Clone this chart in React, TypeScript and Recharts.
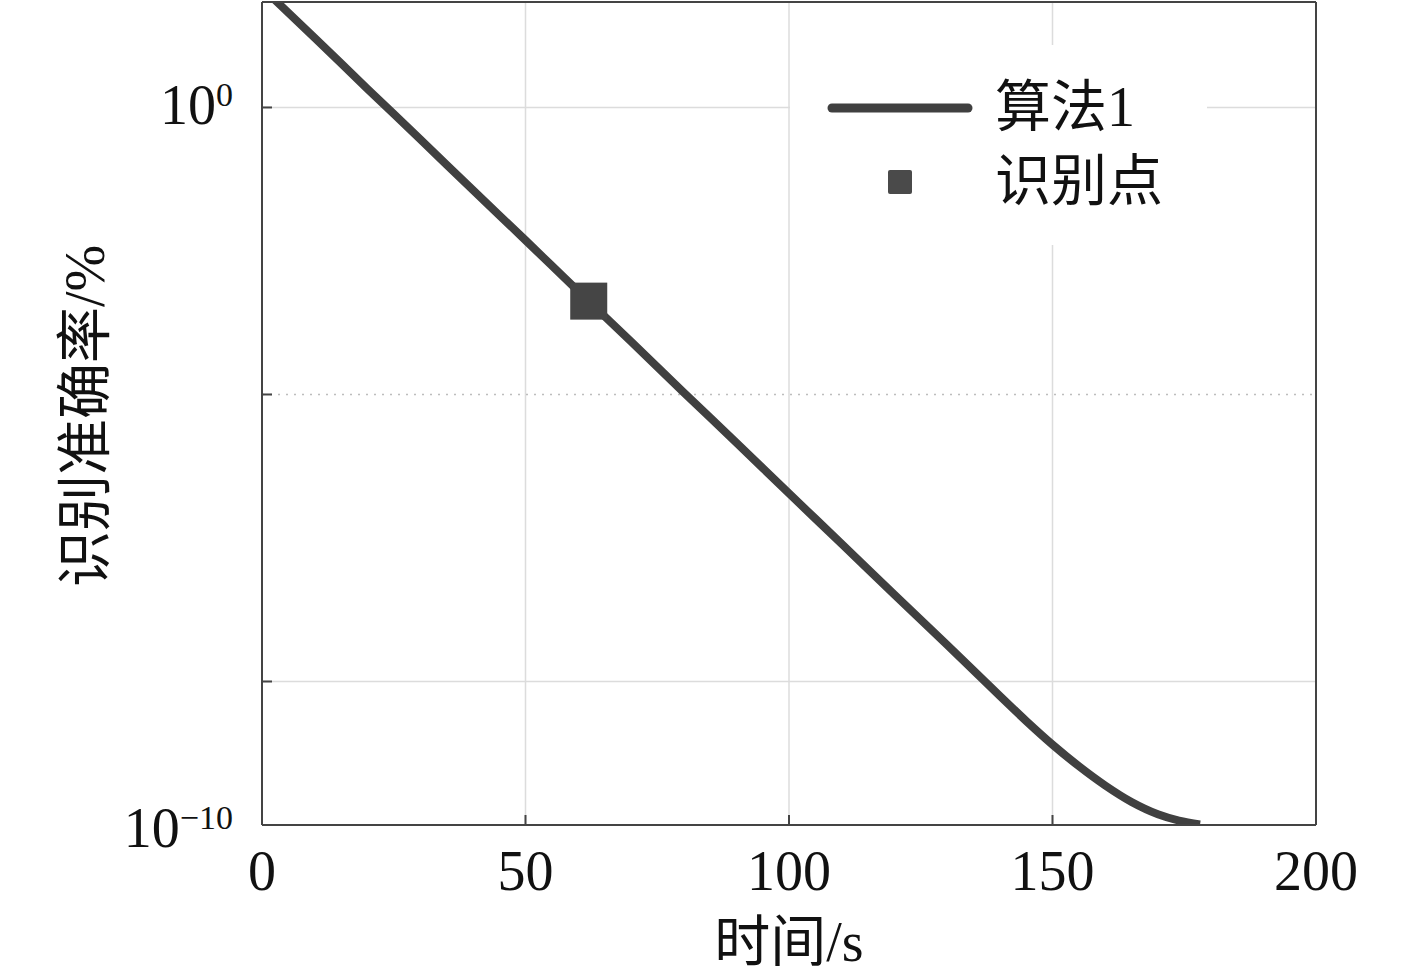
import React from 'react';
import {
  ComposedChart,
  Line,
  Scatter,
  XAxis,
  YAxis,
  CartesianGrid,
  ReferenceLine,
  Legend,
} from 'recharts';

// ---- data ----
const timeSeconds = [0, 10, 20, 30, 40, 50, 60, 70, 80, 90, 100, 110, 120, 130, 140, 145, 150, 155, 160, 165, 170, 174, 178];
const accuracyValues = [
  46.8, 9.33, 1.82, 0.363, 0.0708, 0.0141, 2.75e-3, 5.5e-4, 1.07e-4, 2.14e-5, 4.17e-6, 8.3e-7, 1.62e-7,
  3.24e-8, 6.3e-9, 2.82e-9, 1.32e-9, 6.6e-10, 3.55e-10, 2.09e-10, 1.41e-10, 1.15e-10, 1.02e-10,
];
const pointTime = [62];
const pointValue = [2.0e-3];

const xTicks = [0, 50, 100, 150, 200];
const yTicks = [1, 1e-4, 1e-8, 1e-10];
const yLabelled: Record<string, string> = { '1': '0', '1e-10': '\u221210' };

const seriesName = '算法1';
const pointName = '识别点';
const xTitle = '时间/s';
const yTitle = '识别准确率/%';

const lineData = timeSeconds.map((t, i) => ({ t, v: accuracyValues[i] }));
const pointData = pointTime.map((t, i) => ({ t, v: pointValue[i] }));

const FONT = "'Liberation Serif', 'Noto Sans CJK SC', serif";
const DARK = '#404040';
const AXIS = '#444444';
const GRID = '#dcdcdc';

const XTick = (props: any) => {
  const { x, y, payload } = props;
  return (
    <text x={x} y={y + 65} textAnchor="middle" fontFamily={FONT} fontSize={56} fill="#111">
      {payload.value}
    </text>
  );
};

const YTick = (props: any) => {
  const { x, y, payload } = props;
  const key = String(payload.value);
  const sup = yLabelled[key];
  if (sup === undefined) return <g />;
  const dy = payload.value === 1 ? 17 : 22;
  return (
    <text x={x - 29} y={y + dy} textAnchor="end" fontFamily={FONT} fontSize={56} fill="#111">
      10
      <tspan fontSize={34} dy={-18}>
        {sup}
      </tspan>
    </text>
  );
};

const LegendContent = () => (
  <svg width={417} height={200} style={{ display: 'block' }}>
    <line x1={42} y1={63} x2={178} y2={63} stroke={DARK} strokeWidth={9} strokeLinecap="round" />
    <text x={205} y={81} fontFamily={FONT} fontSize={56} fill="#111">
      {seriesName}
    </text>
    <rect x={98} y={125} width={24} height={24} rx={2} fill="#4a4a4a" />
    <text x={205} y={155} fontFamily={FONT} fontSize={56} fill="#111">
      {pointName}
    </text>
  </svg>
);

const SquareShape = (props: any) => {
  const { cx, cy } = props;
  const s = 37;
  return <rect x={cx - s / 2} y={cy - s / 2} width={s} height={s} fill="#454545" />;
};

export default function App() {
  return (
    <div style={{ position: 'absolute', left: 0, top: 0, width: 1417, height: 974, background: '#fff' }}>
      <ComposedChart width={1417} height={974} margin={{ top: 1, right: 100, bottom: 49, left: 0 }}>
        <CartesianGrid horizontal={false} vertical stroke={GRID} strokeWidth={1.5} />
        <ReferenceLine y={1} stroke={GRID} strokeWidth={1.5} />
        <ReferenceLine y={1e-8} stroke={GRID} strokeWidth={1.5} />
        <ReferenceLine y={1e-4} stroke="#bdbdbd" strokeWidth={1.5} strokeDasharray="2 6" />
        <Line
          data={lineData}
          dataKey="v"
          type="monotone"
          stroke={DARK}
          strokeWidth={8}
          dot={false}
          activeDot={false}
          isAnimationActive={false}
          name={seriesName}
        />
        <Scatter data={pointData} dataKey="v" shape={SquareShape} isAnimationActive={false} name={pointName} />
        <XAxis
          dataKey="t"
          type="number"
          domain={[0, 200]}
          ticks={xTicks}
          allowDataOverflow
          height={100}
          stroke={AXIS}
          strokeWidth={2}
          tickSize={-10}
          tickMargin={10}
          tick={XTick}
          tickLine={{ stroke: AXIS, strokeWidth: 2 }}
          axisLine={{ stroke: AXIS, strokeWidth: 2 }}
          label={(p: any) => {
            const vb = p.viewBox || { x: 262, width: 1054, y: 825 };
            return (
              <text x={vb.x + vb.width / 2} y={vb.y + 136} textAnchor="middle" fontFamily={FONT} fontSize={56} fill="#111">
                {xTitle}
              </text>
            );
          }}
        />
        <XAxis
          xAxisId="top"
          orientation="top"
          type="number"
          domain={[0, 200]}
          ticks={xTicks}
          allowDataOverflow
          height={1}
          tick={false}
          tickSize={-10}
          tickLine={{ stroke: AXIS, strokeWidth: 2 }}
          axisLine={{ stroke: AXIS, strokeWidth: 2 }}
        />
        <YAxis
          dataKey="v"
          type="number"
          scale="log"
          domain={[1e-10, 29.5]}
          ticks={yTicks}
          allowDataOverflow
          width={262}
          tickSize={-10}
          tickMargin={10}
          tick={YTick}
          tickLine={{ stroke: AXIS, strokeWidth: 2 }}
          axisLine={{ stroke: AXIS, strokeWidth: 2 }}
          label={(p: any) => {
            const cx = 83;
            const cy = 416;
            return (
              <text
                x={cx}
                y={cy}
                dy={21}
                transform={`rotate(-90 ${cx} ${cy})`}
                textAnchor="middle"
                fontFamily={FONT}
                fontSize={56}
                fill="#111"
              >
                {yTitle}
              </text>
            );
          }}
        />
        <YAxis
          yAxisId="right"
          orientation="right"
          type="number"
          scale="log"
          domain={[1e-10, 29.5]}
          ticks={yTicks}
          allowDataOverflow
          width={1}
          tick={false}
          tickSize={-10}
          tickLine={{ stroke: AXIS, strokeWidth: 2 }}
          axisLine={{ stroke: AXIS, strokeWidth: 2 }}
        />
        <Legend
          layout="vertical"
          align="center"
          verticalAlign="middle"
          content={LegendContent}
          wrapperStyle={{ position: 'absolute', left: 790, top: 45, width: 417, height: 200, background: '#fff' }}
        />
      </ComposedChart>
    </div>
  );
}
